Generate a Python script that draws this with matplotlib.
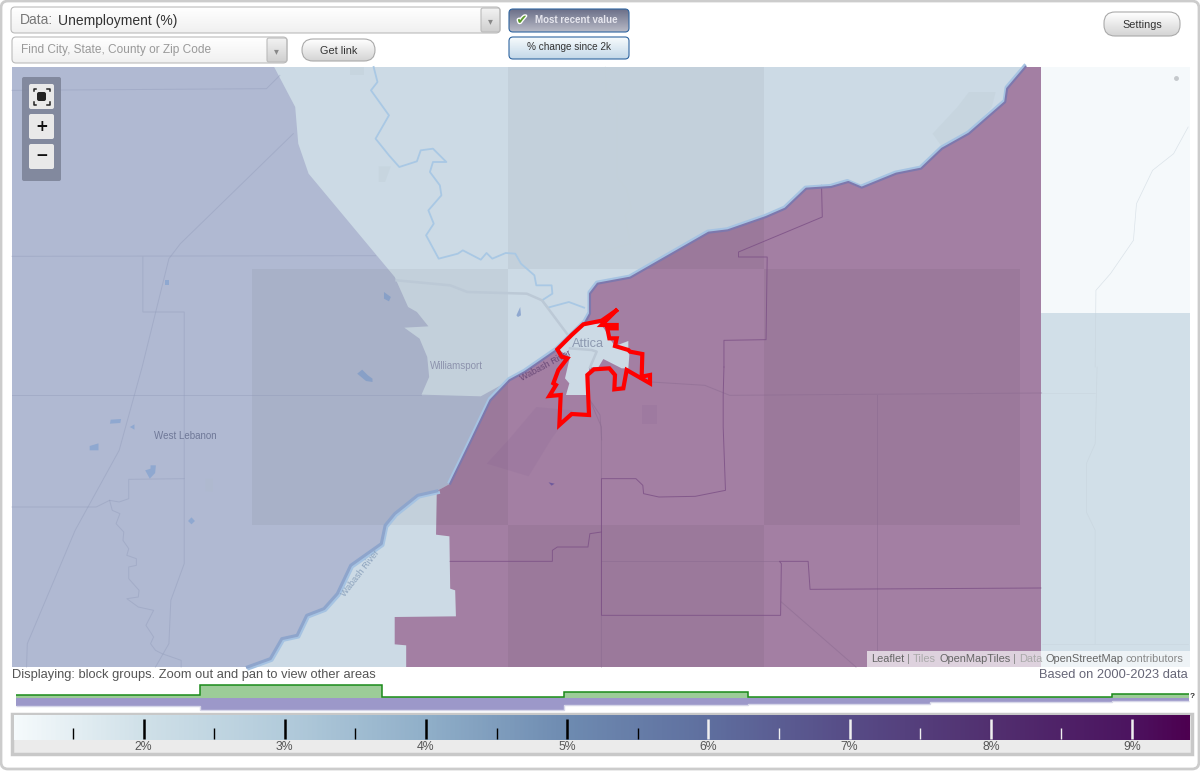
import matplotlib
matplotlib.use("Agg")
import matplotlib.pyplot as plt
import matplotlib.patheffects as pe
import numpy as np
from matplotlib.colors import LinearSegmentedColormap
from matplotlib.patches import FancyBboxPatch, Polygon, Rectangle

plt.rcParams['font.family'] = ['Liberation Sans', 'DejaVu Sans']

# histogram above the colour bar (unemployment %)
bin_edges = [1.10, 2.40, 3.69, 4.98, 6.28, 7.57, 8.86, 9.40]
green_heights = [2.5, 12.5, 1, 5.5, 0.2, 0.2, 4]
purple_heights = [8, 12, 12, 7, 5.5, 3.5, 2.5]

# colour bar
bar_min, bar_max = 1.083, 9.41
bar_stops = [1.083, 2, 3, 4, 5, 6, 7, 8, 9, 9.41]
bar_colors = ['#f5fafc', '#cfe0e8', '#b2cbdb', '#90afc9', '#6e8bb1', '#5f6f9f',
              '#574c87', '#523070', '#4c1460', '#4d0050']
major_ticks = [2, 3, 4, 5, 6, 7, 8, 9]
minor_ticks = [1.5, 2.5, 3.5, 4.5, 5.5, 6.5, 7.5, 8.5]


def nw(pts):  # traced on the top left part of the map
    return [(12 + x / 2.613, 67 + y / 3) for x, y in pts]


def sw(pts):  # bottom left
    return [(12 + x / 2.613, 367 + y / 3) for x, y in pts]


def ne(pts):  # top right
    return [(590 + x / 2.613, 67 + y / 3) for x, y in pts]


def se(pts):  # bottom right
    return [(590 + x / 2.613, 367 + y / 3) for x, y in pts]


def town(pts):  # around Attica
    return [(490 + x / 3, 280 + y / 3) for x, y in pts]


# map shapes
bank_ne = ne([(1138, 0), (1090, 65), (1085, 105), (990, 200), (920, 245), (865, 305), (800, 320), (710, 362),
               (675, 345), (630, 360), (565, 365), (510, 425), (460, 450), (360, 490), (310, 497), (105, 632),
               (20, 650), (0, 680), (0, 740)])
bank_mid = town([(285, 128), (200, 210)]) + sw([(1340, 15), (1300, 40), (1250, 100), (1200, 220), (1145, 350)])
bank_sw = sw([(1110, 372), (1060, 385), (1000, 440), (975, 475), (965, 530), (885, 595), (850, 680), (815, 725),
              (770, 745), (745, 805), (705, 815), (675, 875), (615, 900)])
purple_edge = sw([(1108, 503), (1143, 508), (1145, 665), (1158, 670), (1160, 748), (1000, 750), (1000, 832),
                  (1030, 835), (1030, 900)])
lavender_edge = nw([(685, 0), (740, 120), (748, 230), (775, 320), (1000, 630), (1035, 720), (1058, 735),
                    (1088, 778), (1025, 782), (1065, 815), (1085, 870)]) + sw([(1090, 30), (1070, 83), (1225, 88)])
town_area = town([(280, 135), (330, 130), (345, 150), (358, 175), (375, 198), (415, 183), (415, 210), (418, 225),
                  (415, 265), (395, 265), (340, 237), (325, 262), (298, 262), (290, 345), (228, 345), (238, 310),
                  (225, 295), (240, 230), (202, 208)])
blob_area = sw([(1370, 120), (1465, 130), (1410, 215), (1350, 328), (1240, 290), (1300, 215)])
limit_line = town([(378, 92), (335, 122), (280, 133), (245, 165), (202, 208), (215, 230), (232, 235), (205, 270),
                   (190, 310), (198, 315), (178, 348), (212, 345), (208, 435), (245, 402), (297, 405), (292, 285),
                   (312, 268), (358, 265), (375, 285), (373, 328), (400, 325), (410, 270), (480, 310), (480, 285),
                   (455, 290), (457, 222), (420, 215), (415, 210), (375, 198), (380, 175), (358, 175), (352, 145),
                   (380, 145), (380, 135), (335, 135), (378, 92)])
borders = [
    ne([(605, 355), (607, 450), (388, 555), (388, 570), (463, 570), (460, 818), (350, 820), (350, 900)]),
    se([(350, 0), (348, 85), (348, 180), (354, 370), (275, 388), (180, 390), (140, 380), (138, 355), (120, 335),
        (30, 335), (30, 745), (498, 745), (500, 590), (495, 583), (570, 583), (575, 667), (1178, 663)]),
    sw([(1145, 583), (1412, 583), (1412, 550), (1425, 540), (1505, 540), (1510, 500), (1540, 495)]),
]
rivers = [
    nw([(945, 0), (955, 45), (938, 70), (985, 145), (950, 215), (985, 265), (1012, 300), (1058, 283), (1068, 250),
        (1100, 245), (1135, 285), (1100, 285), (1092, 315), (1118, 355), (1122, 385), (1088, 430), (1102, 470),
        (1082, 505), (1115, 575), (1165, 560), (1178, 550), (1225, 578), (1240, 558), (1255, 575), (1290, 558),
        (1315, 560), (1330, 590), (1365, 625), (1370, 655), (1410, 655), (1412, 680), (1385, 700), (1400, 722),
        (1455, 705), (1495, 722)]),
]
thin_roads = [
    nw([(735, 200), (440, 530), (410, 575), (340, 900)]) + sw([(280, 250), (165, 490), (40, 830), (38, 900)]),
    nw([(0, 70), (665, 65), (700, 25)]),
    nw([(0, 568), (950, 566)]),
    nw([(342, 570), (342, 735), (450, 735), (450, 900)]) + sw([(450, 335), (305, 337), (305, 395), (280, 405),
                                                                (255, 400), (220, 420), (0, 420)]),
    sw([(255, 400), (262, 430), (282, 440), (272, 470), (292, 495), (290, 520), (305, 545), (300, 565), (325, 575),
        (325, 595), (305, 600), (305, 635), (332, 670), (330, 690), (300, 695), (330, 720), (370, 730), (350, 775),
        (370, 810), (362, 830), (375, 850), (392, 860), (442, 880), (442, 900)]),
    sw([(0, 85), (1070, 85)]),
    sw([(450, 335), (450, 590), (415, 700), (410, 830), (375, 900)]),
]
grey_roads = [
    nw([(1005, 640), (1145, 655), (1190, 675), (1345, 680), (1385, 700), (1450, 800)]),
    town([(240, 205), (305, 210), (320, 215), (300, 262)]),
]
faint_purple = [
    town([(300, 360), (330, 405), (335, 480)]),
    se([(160, 45), (300, 55), (365, 85), (1180, 78)]),
    se([(750, 85), (750, 850)]),
    se([(30, 583), (495, 583)]),
    se([(500, 705), (695, 900)]),
    se([(0, 100), (30, 180), (30, 900)]),
]
faint_right = [
    se([(1325, 0), (1320, 230), (1297, 290), (1297, 435), (1320, 490), (1320, 830)]),
    se([(1180, 78), (1320, 78)]),
    se([(1180, 830), (1563, 830)]),
    ne([(1320, 900), (1322, 670), (1360, 620), (1420, 520), (1428, 410), (1470, 310), (1525, 260), (1563, 180)]),
    ne([(40, 0), (42, 70), (70, 110), (70, 330), (95, 365), (108, 425), (92, 445), (105, 530), (0, 565)]),
]
water_spots = [
    sw([(258, 158), (285, 156), (283, 168), (256, 170)]),
    sw([(308, 180), (320, 172), (320, 188)]),
    sw([(203, 237), (226, 229), (226, 250), (203, 250)]),
    sw([(348, 310), (362, 305), (362, 295), (376, 295), (374, 318), (360, 335)]),
    sw([(460, 462), (469, 451), (478, 462), (469, 472)]),
    nw([(400, 640), (410, 640), (410, 655), (400, 655)]),
    nw([(972, 675), (990, 690), (985, 703), (972, 695)]),
    sw([(902, 20), (915, 8), (930, 25), (942, 35), (942, 45), (925, 42)]),
    nw([(1318, 745), (1328, 720), (1330, 745), (1322, 750)]),
]
land_spots = [
    sw([(505, 335), (525, 335), (525, 375), (505, 372)]),
    nw([(958, 298), (990, 298), (975, 345), (958, 345)]),
    nw([(882, 0), (920, 0), (920, 25), (882, 25)]),
    ne([(960, 120), (990, 75), (1060, 75), (1050, 120), (1000, 190), (920, 240), (895, 200)]),
]
purple_spots = [
    blob_area,
    se([(135, 115), (175, 115), (175, 170), (135, 170)]),
]
purple_dot = sw([(1402, 346), (1418, 350), (1410, 356)])


def button(ax, x0, y0, x1, y1, top, bottom, edge, rad=4):
    patch = FancyBboxPatch((x0, y0), x1 - x0, y1 - y0, boxstyle=f"round,pad=0,rounding_size={rad}",
                           fc='none', ec=edge, lw=0.8, zorder=6)
    ax.add_patch(patch)
    cmap = LinearSegmentedColormap.from_list('b', [top, bottom])
    img = ax.imshow(np.linspace(0, 1, 32).reshape(-1, 1), extent=(x0, x1, y1, y0), cmap=cmap,
                    aspect='auto', zorder=5)
    img.set_clip_path(patch)


def draw_line(ax, line, **kw):
    xs, ys = zip(*line)
    ax.plot(xs, ys, **kw)


fig = plt.figure(figsize=(12, 7.71), dpi=100, facecolor='#ffffff')
ax = fig.add_axes([0, 0, 1, 1])
ax.set_xlim(0, 1200)
ax.set_ylim(771, 0)
ax.set_autoscale_on(False)
ax.axis('off')

# outer frame
ax.add_patch(FancyBboxPatch((1, 1), 1198, 768, boxstyle="round,pad=0,rounding_size=7", fc='white', ec='#cccccc', lw=2))

# map
ax.add_patch(Rectangle((12, 67), 1178, 600, fc='#ccdae5', ec='none', zorder=1))
ax.add_patch(Polygon(lavender_edge + bank_mid[2:] + bank_sw + [(12, 667), (12, 67)], fc='#b0b9d2', ec='none', zorder=1.1))
purple_shape = [(1041, 67)] + bank_ne + bank_mid + bank_sw[:1] + purple_edge + [(1041, 667)]
ax.add_patch(Polygon(purple_shape, fc='#a37fa3', ec='none', zorder=1.2))
ax.add_patch(Rectangle((1041, 67), 149, 246, fc='#f5f9fb', ec='none', zorder=1.3))
ax.add_patch(Rectangle((1041, 313), 149, 354, fc='#d1dfe8', ec='none', zorder=1.3))
for spot in purple_spots:
    ax.add_patch(Polygon(spot, fc='#93709a', ec='none', alpha=0.28, zorder=1.4))
ax.add_patch(Polygon(town_area, fc='#ccdae5', ec='none', zorder=1.5))
for spot in land_spots:
    ax.add_patch(Polygon(spot, fc='#a9bcc0', ec='none', alpha=0.14, zorder=1.5))
for spot in water_spots:
    ax.add_patch(Polygon(spot, fc='#8fa8d0', ec='none', zorder=1.5))
ax.add_patch(Polygon(purple_dot, fc='#6f5a9c', ec='none', zorder=1.5))

# darker map tiles
for x0, y0, w, h in [(508, 67, 256, 202), (252, 269, 256, 256), (764, 269, 256, 256), (508, 525, 256, 142)]:
    ax.add_patch(Rectangle((x0, y0), w, h, fc='black', alpha=0.045, ec='none', zorder=1.6))

for line in rivers:
    draw_line(ax, line, color='#a9c8e4', lw=1.3, zorder=2)
for line in thin_roads:
    draw_line(ax, line, color='#8f99b8', lw=0.7, alpha=0.4, zorder=2)
for line in grey_roads:
    draw_line(ax, line, color='#bcc9d6', lw=1.8, zorder=2)
for line in faint_purple:
    draw_line(ax, line, color='#8a6a90', lw=0.7, alpha=0.5, zorder=2)
for line in faint_right:
    draw_line(ax, line, color='#c5d1da', lw=0.5, alpha=0.55, zorder=1.7)
for line in borders:
    draw_line(ax, line, color='#7b4f85', lw=0.7, alpha=0.8, zorder=2.2)

# water band along the state line
xs, ys = zip(*(bank_ne + bank_mid))
ax.plot(np.array(xs) - 1, np.array(ys) - 1.5, color='#a6c3e2', lw=2.2, zorder=2.3)
ax.plot(xs, ys, color='#7d78ad', lw=1.5, zorder=2.4)
xs, ys = zip(*bank_sw)
ax.plot(np.array(xs) + 1.5, np.array(ys) + 1.5, color='#a6c3e2', lw=2.4, zorder=2.3)
ax.plot(xs, ys, color='#8ea5cc', lw=2.2, zorder=2.4)

draw_line(ax, limit_line, color='#ff0000', lw=3, zorder=3, solid_joinstyle='miter')

# map labels
ax.text(588, 344, 'Attica', fontsize=9.2, color='#8d99b0', ha='center', va='center', zorder=2.5)
ax.text(456, 366, 'Williamsport', fontsize=7, color='#8d93ad', ha='center', va='center', zorder=2.5)
ax.text(185, 436, 'West Lebanon', fontsize=7, color='#6f7898', ha='center', va='center', zorder=2.5)
ax.text(546, 366, 'Wabash River', fontsize=6.5, color='#6a4a78', ha='center', va='center', rotation=28, zorder=2.5)
ax.text(360, 573, 'Wabash River', fontsize=6.5, color='#8da3bd', ha='center', va='center', rotation=52, zorder=2.5)

# attribution
ax.add_patch(Rectangle((867, 651), 323, 16, fc='white', alpha=0.65, ec='none', zorder=4))
attribution = [(871, 'Leaflet', '#666666'), (907, '|', '#888888'), (913, 'Tiles', '#aaaaaa'),
               (939, 'OpenMapTiles', '#666666'), (1013, '|', '#888888'), (1019, 'Data', '#aaaaaa'),
               (1045, 'OpenStreetMap', '#666666'), (1126, 'contributors', '#888888')]
for x, word, colour in attribution:
    ax.text(x, 659.5, word, fontsize=7.9, color=colour, va='center', zorder=5)
ax.plot([1176], [78], 'o', ms=2.5, color='#c5c9cc', zorder=3)

# zoom controls
ax.add_patch(FancyBboxPatch((22, 77), 39, 104, boxstyle="round,pad=0,rounding_size=2", fc='#7d8499', ec='none', alpha=0.9, zorder=4))
for y0 in [84, 114, 144]:
    ax.add_patch(FancyBboxPatch((29, y0), 25, 25, boxstyle="round,pad=0,rounding_size=2", fc='#e9e9e9', ec='none', zorder=5))
ax.add_patch(FancyBboxPatch((37, 92), 9, 9, boxstyle="round,pad=0,rounding_size=2", fc='#222222', ec='none', zorder=6))
for sx, sy in [(-1, -1), (1, -1), (-1, 1), (1, 1)]:
    ax.plot([41.5 + sx * 5.5, 41.5 + sx * 8, 41.5 + sx * 8],
            [96.5 + sy * 8, 96.5 + sy * 8, 96.5 + sy * 5.5], color='#222222', lw=1.1, zorder=6)
ax.text(41.5, 126.5, '+', fontsize=11, fontweight='bold', family='DejaVu Sans', color='#111111', ha='center', va='center', zorder=6)
ax.text(41.5, 156, '\u2212', fontsize=11, fontweight='bold', family='DejaVu Sans', color='#111111', ha='center', va='center', zorder=6)

# top controls
button(ax, 11, 7, 500, 33, '#ffffff', '#f0f0f0', '#bbbbbb')
button(ax, 481, 8, 500, 32, '#f2f2f2', '#cfcfcf', '#bbbbbb', rad=2)
button(ax, 12, 37, 287, 63, '#ffffff', '#f0f0f0', '#bbbbbb')
button(ax, 267, 38, 287, 62, '#f2f2f2', '#cfcfcf', '#bbbbbb', rad=2)
button(ax, 302, 39, 375, 61, '#ffffff', '#d4d4d4', '#aaaaaa', rad=11)
button(ax, 1104, 12, 1180, 36, '#ffffff', '#d4d4d4', '#aaaaaa', rad=11)
button(ax, 509, 9, 629, 32, '#6c7089', '#b8bac6', '#2f65a0')
button(ax, 509, 37, 629, 59, '#f7fbfd', '#c3d8e8', '#2f65a0')

ax.text(20, 20.5, 'Data:', fontsize=10, color='#777777', va='center', zorder=7)
ax.text(58, 20.5, 'Unemployment (%)', fontsize=10, color='#333333', va='center', zorder=7)
ax.text(21, 50.5, 'Find City, State, County or Zip Code', fontsize=8.6, color='#999999', va='center', zorder=7)
ax.text(490.5, 21, '\u25be', fontsize=7, color='#888888', ha='center', va='center', zorder=7)
ax.text(276.5, 51, '\u25be', fontsize=7, color='#888888', ha='center', va='center', zorder=7)
ax.text(338.5, 50.5, 'Get link', fontsize=7.8, color='#333333', ha='center', va='center', zorder=7)
ax.text(1142, 24.5, 'Settings', fontsize=7.8, color='#333333', ha='center', va='center', zorder=7)
check = ax.text(522, 20.5, '\u2714', fontsize=9.5, color='#5c9a2c', family='DejaVu Sans', ha='center', va='center', zorder=7)
check.set_path_effects([pe.withStroke(linewidth=2, foreground='white')])
ax.text(576, 20, 'Most recent value', fontsize=7, fontweight='bold', color='#e6e6ee', ha='center', va='center', zorder=7)
ax.text(569, 47.5, '% change since 2k', fontsize=7.2, color='#333333', ha='center', va='center', zorder=7)

# captions
ax.text(12, 675, 'Displaying: block groups. Zoom out and pan to view other areas', fontsize=9.3, color='#555555', va='center')
ax.text(1188, 675, 'Based on 2000-2023 data', fontsize=9.3, color='#666677', ha='right', va='center')
ax.text(1192, 697, '?', fontsize=6, fontweight='bold', color='#333333', ha='center', va='center')

# histogram
hist_ax = fig.add_axes([14 / 1200, 1 - 712 / 771, 1176 / 1200, 30 / 771])
hist_ax.set_xlim(bar_min, bar_max)
hist_ax.set_ylim(-14.5, 15.5)
hist_ax.axis('off')
hist_ax.patch.set_alpha(0)
edges = np.array(bin_edges)
green = np.array(green_heights)
purple = np.array(purple_heights)
hist_ax.stairs(-purple - 0.5, edges, baseline=-0.5, fill=True, color='#9c98c9')
hist_ax.stairs(-purple - 0.5, edges, baseline=None, color='#d6d6e8', lw=1)
hist_ax.stairs(green, edges, baseline=0, fill=True, color='#9ccc98')
hist_ax.stairs(green, edges, baseline=None, color='#1a8a1a', lw=1.1)

# colour bar
ax.add_patch(Rectangle((11.5, 714), 1180, 40, fc='#ebebeb', ec='#c8c8c8', lw=2.5, zorder=1))
bar_ax = fig.add_axes([14 / 1200, 1 - 740 / 771, 1176 / 1200, 25 / 771])
positions = [(v - bar_min) / (bar_max - bar_min) for v in bar_stops]
bar_cmap = LinearSegmentedColormap.from_list('unemp', list(zip(positions, bar_colors)))
bar_ax.imshow(np.linspace(0, 1, 512).reshape(1, -1), extent=(bar_min, bar_max, 0, 1), aspect='auto', cmap=bar_cmap)
bar_ax.set_xlim(bar_min, bar_max)
bar_ax.set_ylim(0, 1)
bar_ax.axis('off')
for t in major_ticks:
    bar_ax.vlines(t, 0.04, 0.84, color='black' if t < 5.7 else '#f0f0f0', lw=1.8)
    bar_ax.text(t, -0.26, f'{t}%', fontsize=8.8, color='#555555', ha='center', va='center', clip_on=False)
for t in minor_ticks:
    bar_ax.vlines(t, 0.04, 0.5, color='black' if t < 5.7 else '#f0f0f0', lw=1)

fig.savefig('out.png', dpi=100)
